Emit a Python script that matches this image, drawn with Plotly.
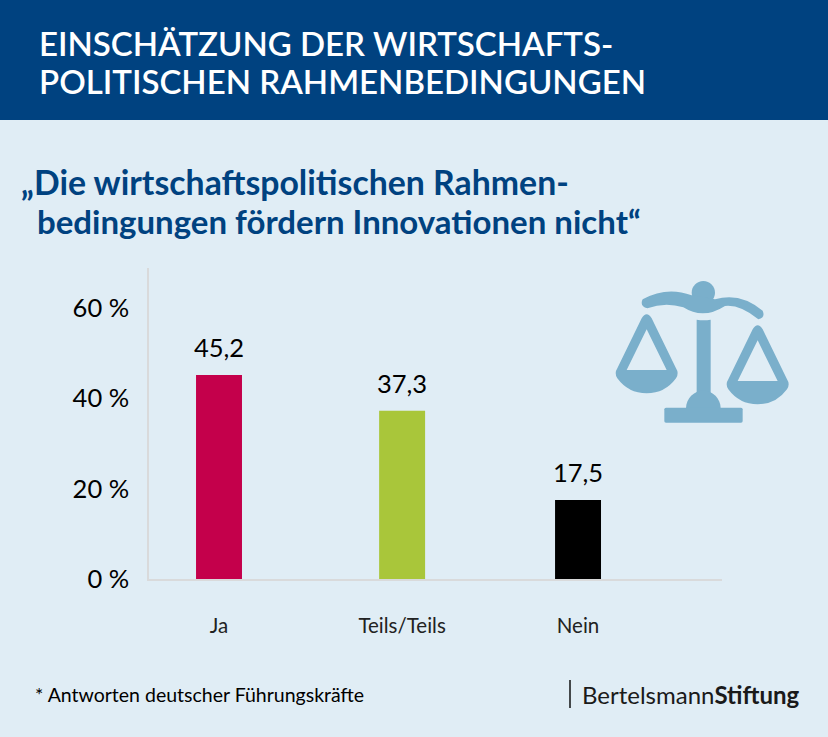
import plotly.graph_objects as go

W, H = 828, 737

categories = ['Ja', 'Teils/Teils', 'Nein']
values = [45.2, 37.3, 17.5]
bar_colors = ['#c4004b', '#a9c63a', '#000000']
y_ticks = [0, 20, 40, 60]
# the middle bar sits a little right of the even spacing
slots = [0, 1.02, 2]

BLUE = '#004280'
BG = '#e0edf5'
ICON = '#7aafcb'
AXIS = '#d9dadb'
FONT = 'Lato, sans-serif'


def px(x):
    return x / W


def py(y):
    return 1 - y / H


def path(cmds):
    # cmds in screen pixels -> svg path in paper coordinates
    out = []
    for c in cmds:
        if c == 'Z':
            out.append('Z')
        else:
            pts = [f'{px(c[i]):.5f},{py(c[i + 1]):.5f}' for i in range(1, len(c), 2)]
            out.append(c[0] + ' '.join(pts))
    return ' '.join(out)


def icon(cmds):
    # icon outlines were read from the 3x zoom starting at (600, 270)
    conv = []
    for c in cmds:
        if c == 'Z':
            conv.append(c)
        else:
            vals = [600 + v / 3 if i % 2 == 0 else 270 + v / 3 for i, v in enumerate(c[1:])]
            conv.append((c[0], *vals))
    return dict(type='path', xref='paper', yref='paper', path=path(conv),
                fillcolor=ICON, line=dict(width=0), layer='above')


def circle(cx, cy, r):
    k = 0.5523 * r
    return [('M', cx - r, cy), ('C', cx - r, cy - k, cx - k, cy - r, cx, cy - r),
            ('C', cx + k, cy - r, cx + r, cy - k, cx + r, cy),
            ('C', cx + r, cy + k, cx + k, cy + r, cx, cy + r),
            ('C', cx - k, cy + r, cx - r, cy + k, cx - r, cy), 'Z']


def pan(dx, dy):
    return [('M', 125 + dx, 145 + dy), ('Q', 140 + dx, 120 + dy, 155 + dx, 145 + dy),
            ('L', 228 + dx, 295 + dy), ('Q', 238 + dx, 310 + dy, 228 + dx, 325 + dy),
            ('Q', 195 + dx, 370 + dy, 140 + dx, 370 + dy), ('Q', 85 + dx, 370 + dy, 52 + dx, 325 + dy),
            ('Q', 42 + dx, 310 + dy, 52 + dx, 295 + dy), 'Z',
            ('M', 140 + dx, 178 + dy), ('L', 80 + dx, 300 + dy), ('L', 200 + dx, 300 + dy), 'Z']


shapes = [
    dict(type='rect', xref='paper', yref='paper', x0=0, x1=1, y0=py(120), y1=1,
         fillcolor=BLUE, line=dict(width=0), layer='below'),
    dict(type='line', xref='paper', yref='paper', x0=px(570), x1=px(570), y0=py(680), y1=py(708),
         line=dict(color='#111111', width=1.5)),
    icon(circle(310, 68, 35)),
    icon([('M', 128, 88), ('Q', 200, 48, 275, 76), ('L', 345, 88), ('Q', 420, 65, 488, 122),
          ('Q', 497, 143, 475, 148), ('Q', 420, 103, 375, 108), ('Q', 310, 150, 250, 112),
          ('Q', 195, 95, 142, 115), ('Q', 118, 108, 128, 88), 'Z']),
    icon([('M', 290, 149), ('Q', 311, 153, 332, 149), ('L', 332, 370), ('L', 290, 370), 'Z']),
    icon([('M', 258, 415), ('C', 258, 385, 282, 362, 310, 362), ('C', 338, 362, 362, 385, 362, 415), 'Z']),
    icon([('M', 198, 413), ('L', 423, 413), ('Q', 428, 413, 428, 418), ('L', 428, 453),
          ('Q', 428, 458, 423, 458), ('L', 198, 458), ('Q', 193, 458, 193, 453),
          ('L', 193, 418), ('Q', 193, 413, 198, 413), 'Z']),
    icon(pan(0, 0)),
    icon(pan(333, 33)),
]


def label(text, x, y, size, color='#000000', weight=400):
    return dict(text=text, x=px(x), y=py(y), xref='paper', yref='paper', xanchor='left', yanchor='middle',
                showarrow=False, font=dict(family=FONT, size=size, color=color, weight=weight))


annotations = [
    label('EINSCHÄTZUNG DER WIRTSCHAFTS-', 37, 43, 33, '#ffffff', 600),
    label('POLITISCHEN RAHMENBEDINGUNGEN', 37, 81, 33, '#ffffff', 600),
    label('„Die wirtschaftspolitischen Rahmen-', 19, 182, 33.8, BLUE, 700),
    label('bedingungen fördern Innovationen nicht“', 35, 221, 33, BLUE, 700),
    label('* Antworten deutscher Führungskräfte', 33, 694, 19.5),
    label('Bertelsmann<b>Stiftung</b>', 580, 694, 24, '#1a1a1a'),
]
# value labels float above the bars
for s, v in zip(slots, values):
    annotations.append(dict(
        text=f'{v:.1f}'.replace('.', ','), x=s, y=v, xref='x', yref='y', yanchor='bottom', yshift=11,
        showarrow=False, font=dict(family=FONT, size=25.5, color='#000000'),
    ))

fig = go.Figure(go.Bar(
    x=slots,
    y=values,
    width=0.256,
    marker=dict(color=bar_colors, line=dict(width=0)),
    hoverinfo='skip',
))

fig.update_xaxes(
    domain=[px(149), px(722)],
    range=[-0.39, 2.802],
    tickvals=slots,
    ticktext=categories,
    tickfont=dict(family=FONT, size=20.5, color='#222222'),
    ticks='',
    ticklabelstandoff=28,
    showgrid=False,
    zeroline=False,
    showline=True,
    linecolor=AXIS,
    linewidth=1.5,
)
fig.update_yaxes(
    domain=[py(579), py(268)],
    range=[0, 68.9],
    tickvals=y_ticks,
    ticktext=[f'{t} %' for t in y_ticks],
    tickfont=dict(family=FONT, size=25.5, color='#000000'),
    ticks='',
    ticklabelstandoff=13,
    showgrid=False,
    zeroline=False,
    showline=True,
    linecolor=AXIS,
    linewidth=1.5,
)
fig.update_layout(
    width=W,
    height=H,
    margin=dict(l=0, r=0, t=0, b=0, autoexpand=False),
    paper_bgcolor=BG,
    plot_bgcolor=BG,
    showlegend=False,
    shapes=shapes,
    annotations=annotations,
)
fig.write_html('out.html', config={'displayModeBar': False}, post_script="document.body.style.margin = '0';")
